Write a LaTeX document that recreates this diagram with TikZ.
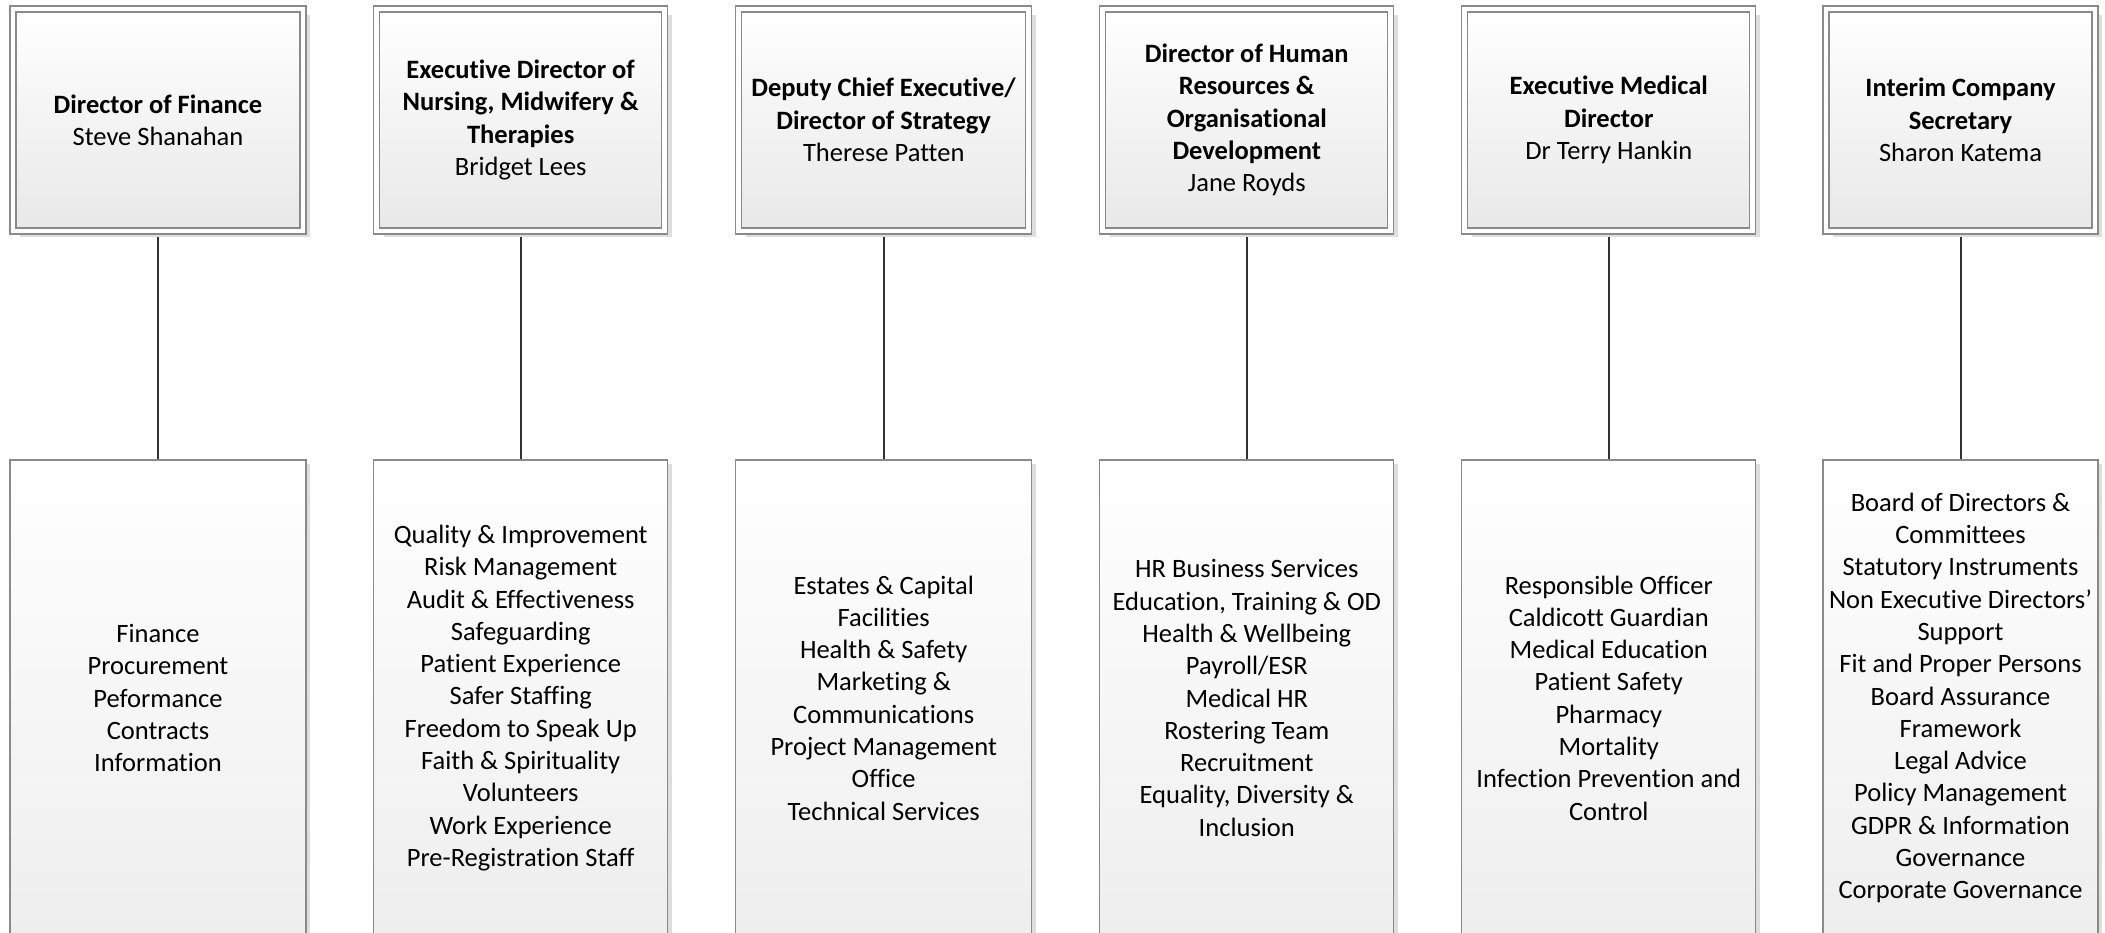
\documentclass[tikz,border=0pt]{standalone}
\usepackage{fontspec}
\setmainfont[Ligatures={NoCommon}]{Carlito}
\usetikzlibrary{shadows,backgrounds}
\definecolor{bordergray}{RGB}{138,138,138}
\definecolor{linegray}{RGB}{50,50,50}
\definecolor{shadegray}{RGB}{232,232,232}
\definecolor{unitgray}{RGB}{238,238,238}
\definecolor{shadowgray}{RGB}{222,222,222}
\tikzset{
  boxfont/.style={font=\fontsize{26.5}{32.3}\selectfont},
  headbox/.style={boxfont, draw=bordergray, line width=1.2pt, double=white, double distance=4.8pt,
    top color=white, bottom color=shadegray, align=center, inner sep=0pt,
    minimum height=222pt,
    drop shadow={shadow xshift=7pt, shadow yshift=-6pt, fill=shadowgray, opacity=1}},
  unitbox/.style={boxfont, draw=bordergray, line width=1.3pt,
    top color=white, bottom color=unitgray, align=center, inner sep=0pt,
    minimum height=476pt,
    drop shadow={shadow xshift=4pt, shadow yshift=-4pt, fill=shadowgray, opacity=1}},
  link/.style={draw=linegray, line width=2pt}
}
\begin{document}
\begin{tikzpicture}[x=1pt,y=-1pt]
\useasboundingbox (0,0) rectangle (2105,933);

% head boxes
\node[headbox, minimum width=290pt] (t1) at (158,120) {\textbf{Director of Finance}\\Steve Shanahan};
\node[headbox, minimum width=288pt] (t2) at (520.7,120) {\textbf{Executive Director of}\\\textbf{Nursing, Midwifery \&}\\\textbf{Therapies}\\Bridget Lees};
\node[headbox, minimum width=290pt] (t3) at (883.7,120) {\textbf{Deputy Chief Executive/}\\\textbf{Director of Strategy}\\Therese Patten};
\node[headbox, minimum width=288pt] (t4) at (1246.8,120) {\textbf{Director of Human}\\\textbf{Resources \&}\\\textbf{Organisational}\\\textbf{Development}\\Jane Royds};
\node[headbox, minimum width=288pt] (t5) at (1608.8,120) {\textbf{Executive Medical}\\\textbf{Director}\\Dr Terry Hankin};
\node[headbox, minimum width=269pt] (t6) at (1960.5,120) {\textbf{Interim Company}\\\textbf{Secretary}\\Sharon Katema};

% unit boxes
\node[unitbox, minimum width=296pt] (b1) at (158,698) {Finance\\Procurement\\Peformance\\Contracts\\Information};
\node[unitbox, minimum width=294pt] (b2) at (520.7,698) {Quality \& Improvement\\Risk Management\\Audit \& Effectiveness\\Safeguarding\\Patient Experience\\Safer Staffing\\Freedom to Speak Up\\Faith \& Spirituality\\Volunteers\\Work Experience\\Pre-Registration Staff};
\node[unitbox, minimum width=296pt] (b3) at (883.7,698) {Estates \& Capital\\Facilities\\Health \& Safety\\Marketing \&\\Communications\\Project Management\\Office\\Technical Services};
\node[unitbox, minimum width=294pt] (b4) at (1246.8,698) {HR Business Services\\Education, Training \& OD\\Health \& Wellbeing\\Payroll/ESR\\Medical HR\\Rostering Team\\Recruitment\\Equality, Diversity \&\\Inclusion};
\node[unitbox, minimum width=294pt] (b5) at (1608.8,698) {Responsible Officer\\Caldicott Guardian\\Medical Education\\Patient Safety\\Pharmacy\\Mortality\\Infection Prevention and\\Control};
\node[unitbox, minimum width=275pt] (b6) at (1960.5,698) {Board of Directors \&\\Committees\\Statutory Instruments\\Non Executive Directors’\\Support\\Fit and Proper Persons\\Board Assurance\\Framework\\Legal Advice\\Policy Management\\GDPR \& Information\\Governance\\Corporate Governance};

% connectors
\begin{scope}[on background layer]
\fill[white] (0,0) rectangle (2105,933);
\foreach \i in {1,...,6} {
  \draw[link] (t\i.south) -- (b\i.north);
}
\end{scope}
\end{tikzpicture}
\end{document}
